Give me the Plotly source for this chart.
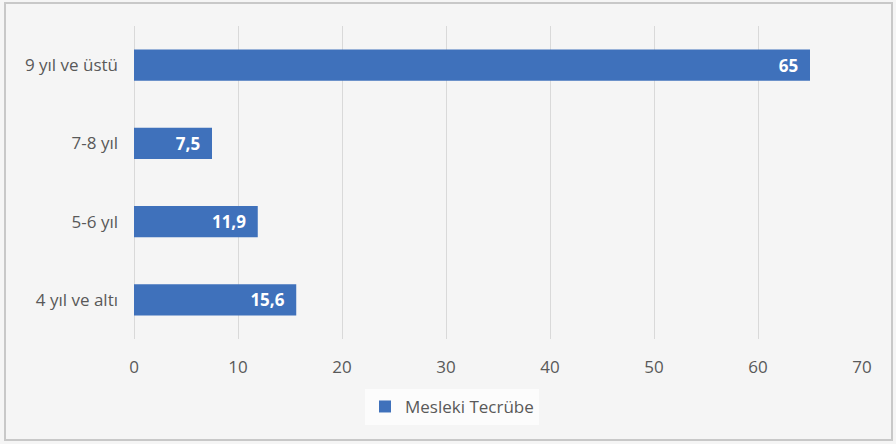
import plotly.graph_objects as go

# Years of professional experience (share, %)
categories = ["4 yıl ve altı", "5-6 yıl", "7-8 yıl", "9 yıl ve üstü"]
values = [15.6, 11.9, 7.5, 65]
series_name = "Mesleki Tecrübe"
x_ticks = [0, 10, 20, 30, 40, 50, 60, 70]

BAR_COLOR = "#3f71bb"
TEXT_COLOR = "#595959"
GRID_COLOR = "#d9d9d9"
FONT = "Open Sans, Noto Sans, sans-serif"

fig = go.Figure(
    go.Bar(
        x=values,
        y=categories,
        orientation="h",
        name=series_name,
        marker=dict(color=BAR_COLOR, line=dict(width=0)),
        texttemplate="<b>%{x}</b>\u00a0\u00a0",
        textposition="inside",
        insidetextanchor="end",
        textfont=dict(color="white", size=17, family=FONT),
        showlegend=True,
    )
)

fig.update_layout(
    width=896,
    height=444,
    margin=dict(l=134, r=34, t=26, b=105),
    paper_bgcolor="#f5f5f5",
    plot_bgcolor="#f5f5f5",
    separators=",.",
    bargap=0.6,
    font=dict(family=FONT, size=16, color=TEXT_COLOR),
    xaxis=dict(
        range=[0, 70],
        tickvals=x_ticks,
        showgrid=True,
        gridcolor=GRID_COLOR,
        gridwidth=1,
        zeroline=True,
        zerolinecolor=GRID_COLOR,
        zerolinewidth=1,
        showline=False,
        ticks="",
        ticklen=0,
        ticklabelstandoff=16,
        tickfont=dict(size=17, color=TEXT_COLOR),
        fixedrange=True,
    ),
    yaxis=dict(
        showgrid=False,
        showline=False,
        ticks="",
        ticklabelstandoff=15,
        tickfont=dict(size=17, color=TEXT_COLOR),
        fixedrange=True,
    ),
    legend=dict(
        orientation="h",
        x=0.4368,
        xanchor="center",
        y=-0.217,
        yanchor="middle",
        bgcolor="#fcfcfc",
        borderwidth=0,
        font=dict(size=17, color=TEXT_COLOR),
        itemwidth=30,
    ),
    shapes=[
        # outer chart frame
        dict(
            type="rect",
            xref="paper",
            yref="paper",
            x0=-0.1772,
            x1=1.0412,
            y0=-0.3227,
            y1=1.0735,
            line=dict(color="#c8c8c8", width=2),
            fillcolor="rgba(0,0,0,0)",
            layer="below",
        )
    ],
)

fig.write_html("out.html")
